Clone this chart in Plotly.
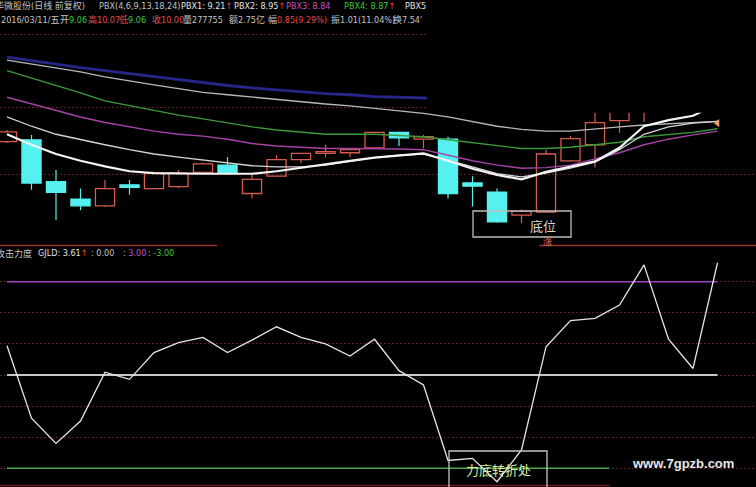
import plotly.graph_objects as go

W, H = 756, 487

# ---------------- data ----------------
idx = list(range(30))

opens  = [10.20, 10.23, 9.55, 9.27, 9.16, 9.50, 9.44, 9.47, 9.70, 9.82,
          9.36, 9.64, 9.91, 10.01, 10.02, 10.10, 10.35, 10.24, 10.24, 9.53,
          9.38, 9.01, 9.06, 9.89, 10.15, 10.54, 10.80, 10.95, 10.90, 11.00]
highs  = [10.39, 10.31, 9.74, 9.44, 9.58, 9.58, 9.70, 9.74, 9.86, 9.95,
          9.68, 9.98, 10.02, 10.15, 10.09, 10.36, 10.36, 10.31, 10.28, 9.64,
          9.44, 9.10, 10.07, 10.29, 10.79, 10.95, 11.10, 11.15, 11.20, 11.25]
lows   = [10.18, 9.42, 8.93, 9.09, 9.14, 9.34, 9.43, 9.45, 9.70, 9.68,
          9.28, 9.63, 9.85, 9.95, 9.95, 10.10, 10.13, 10.09, 9.28, 9.15,
          8.89, 8.88, 9.06, 9.88, 9.78, 10.34, 10.52, 10.75, 10.80, 10.85]
closes = [10.36, 9.53, 9.38, 9.16, 9.44, 9.46, 9.69, 9.69, 9.84, 9.69,
          9.59, 9.91, 10.01, 10.04, 10.07, 10.35, 10.26, 10.28, 9.36, 9.48,
          8.90, 9.07, 10.00, 10.25, 10.51, 10.82, 11.00, 10.90, 11.10, 11.10]

# PBX (waterfall) lines
pbx1 = [10.32, 10.15, 10.00, 9.89, 9.80, 9.72, 9.69, 9.68, 9.68, 9.68,
        9.68, 9.72, 9.78, 9.84, 9.89, 9.94, 9.98, 10.01, 9.89, 9.76,
        9.66, 9.59, 9.71, 9.79, 9.88, 10.10, 10.45, 10.55, 10.62, 10.81]
pbx2 = [10.60, 10.45, 10.32, 10.23, 10.15, 10.07, 10.00, 9.95, 9.90, 9.85,
        9.81, 9.79, 9.79, 9.82, 9.88, 9.94, 9.98, 10.00, 9.90, 9.79,
        9.68, 9.63, 9.69, 9.77, 9.87, 10.07, 10.32, 10.44, 10.50, 10.53]
pbx3 = [10.92, 10.81, 10.70, 10.60, 10.51, 10.44, 10.37, 10.32, 10.29, 10.24,
        10.17, 10.13, 10.11, 10.09, 10.09, 10.09, 10.08, 10.07, 9.98, 9.89,
        9.82, 9.77, 9.78, 9.82, 9.92, 10.02, 10.15, 10.24, 10.31, 10.37]
pbx4 = [11.35, 11.23, 11.12, 10.99, 10.86, 10.78, 10.70, 10.63, 10.57, 10.50,
        10.44, 10.39, 10.36, 10.32, 10.32, 10.32, 10.30, 10.28, 10.23, 10.18,
        10.13, 10.09, 10.09, 10.11, 10.15, 10.19, 10.28, 10.32, 10.35, 10.41]
pbx5 = [11.52, 11.46, 11.39, 11.33, 11.25, 11.18, 11.12, 11.06, 11.00, 10.96,
        10.92, 10.88, 10.84, 10.81, 10.78, 10.74, 10.70, 10.66, 10.60, 10.53,
        10.45, 10.40, 10.37, 10.37, 10.41, 10.44, 10.47, 10.49, 10.52, 10.53]
pbx6 = [11.57, 11.51, 11.46, 11.40, 11.35, 11.30, 11.25, 11.20, 11.15, 11.11,
        11.07, 11.04, 11.00, 10.98, 10.96, 10.93, 10.92, 10.91, 10.89, 10.88,
        10.86, 10.84, 10.84, 10.84, 10.86, 10.88, 10.89, 10.91, 10.92, 10.94]
last_mark = 10.50

# 攻击力度 GJLD indicator
gjld = [0.94, -1.39, -2.20, -1.48, 0.09, -0.14, 0.72, 1.04, 1.21, 0.72,
        1.12, 1.55, 1.21, 1.00, 0.61, 1.15, 0.14, -0.32, -2.75, -2.68,
        -3.43, -2.41, 0.91, 1.75, 1.82, 2.25, 3.54, 1.15, 0.21, 3.61]
gjld_upper, gjld_mid, gjld_lower = 3.00, 0.00, -3.00

main_grid = [9.66, 10.76, 11.93]
sub_grid = [-3, -2, -1, 0, 1, 2, 3]

# ---------------- styles ----------------
RED = "#D85C50"
CYAN = "#55F0F0"
GRID = "#5E1E1E"
NARROW = "Liberation Sans Narrow, Arial Narrow, DejaVu Sans Condensed, Noto Sans CJK SC, sans-serif"
CJK = "Noto Sans CJK SC, sans-serif"
GRAY = "#C4C4C4"
TRED = "#E84848"
TGREEN = "#3CC83C"
TPURP = "#C850C8"
ARROW = "<span style='color:%s'>↑</span>" % TRED

up = [c >= o for o, c in zip(opens, closes)]

fig = go.Figure()

# wicks (upper and lower parts only, so hollow bodies stay empty)
for is_up, col in [(True, RED), (False, CYAN)]:
    xs, ys = [], []
    for i in idx:
        if up[i] != is_up:
            continue
        top = max(opens[i], closes[i]); bot = min(opens[i], closes[i])
        xs += [i, i, None, i, i, None]
        ys += [top, highs[i], None, lows[i], bot, None]
    fig.add_trace(go.Scatter(x=xs, y=ys, mode="lines", line=dict(color=col, width=1.2),
                             hoverinfo="skip", showlegend=False))

# bodies
for is_up, fill, col in [(True, "rgba(0,0,0,0)", RED), (False, CYAN, CYAN)]:
    bx = [i for i in idx if up[i] == is_up]
    base = [min(opens[i], closes[i]) for i in bx]
    hgt = [max(abs(closes[i] - opens[i]), 0.012) for i in bx]
    fig.add_trace(go.Bar(x=bx, y=hgt, base=base, width=0.78,
                         marker=dict(color=fill, line=dict(color=col, width=1.3)),
                         hoverinfo="skip", showlegend=False))

# PBX lines
for vals, col, wd in [(pbx6, "#262688", 2.8), (pbx5, "#B8B8B8", 1.3), (pbx4, "#3C9A3C", 1.4),
                      (pbx3, "#A642A6", 1.4), (pbx2, "#D4D4D4", 1.3), (pbx1, "#F4F4F4", 2.2)]:
    fig.add_trace(go.Scatter(x=idx, y=vals, mode="lines", line=dict(color=col, width=wd),
                             hoverinfo="skip", showlegend=False))

fig.add_trace(go.Scatter(x=[idx[-1]], y=[last_mark], mode="markers",
                         marker=dict(symbol="triangle-left", size=7, color="#F0A070"),
                         hoverinfo="skip", showlegend=False))

# GJLD
fig.add_trace(go.Scatter(x=idx, y=gjld, mode="lines", line=dict(color="#E6E6E6", width=1.3),
                         xaxis="x", yaxis="y2", hoverinfo="skip", showlegend=False))

# ---------------- layout helpers ----------------
def pxx(x):
    return x / W

def pyy(y):
    return 1 - y / H

def xi(xpix):  # pixel -> bar index, for decorations
    return (xpix - 7) / 24.5

annotations = []

def label(xp, yp, text, color, size=9, family=NARROW, anchor="left"):
    annotations.append(dict(x=pxx(xp), y=pyy(yp), xref="paper", yref="paper", text=text,
                            showarrow=False, xanchor=anchor, yanchor="middle",
                            borderpad=0, font=dict(color=color, size=size, family=family)))

# header line 1
label(-6, 6, "华微股份(日线 前复权)", GRAY)
label(98, 6, "PBX(4,6,9,13,18,24)", GRAY)
label(180, 6, "PBX1: 9.21" + ARROW, "#E4E4E4")
label(233, 6, "PBX2: 8.95" + ARROW, "#E4E4E4")
label(285, 6, "PBX3: 8.84", TPURP)
label(343, 6, "PBX4: 8.87" + ARROW, TGREEN)
label(404, 6, "PBX5", "#E4E4E4")
# header line 2
label(0, 20, "2016/03/11/五", GRAY)
label(59, 20, "开<span style='color:%s'>9.06</span>" % TGREEN, GRAY)
label(87, 20, "高10.07", TRED)
label(118, 20, "低<span style='color:%s'>9.06</span>" % TGREEN, TRED)
label(151, 20, "收10.00", TRED)
label(182, 20, "量277755", GRAY)
label(228, 20, "额2.75亿", GRAY)
label(267, 20, "幅<span style='color:%s'>0.85(9.29%%)</span>" % TRED, GRAY)
label(330, 20, "振1.01(11.04%)", GRAY)
label(392, 20, "换7.54'", GRAY)

# sub panel title
label(-5, 253, "攻击力度", GRAY)
label(37, 253, "GJLD: 3.61" + ARROW, "#E4E4E4")
label(90, 253, ": 0.00", GRAY)
label(122, 253, ": <span style='color:%s'>3.00</span>" % TPURP, GRAY)
label(147, 253, ": <span style='color:%s'>-3.00</span>" % TGREEN, GRAY)

# box texts
label(543, 225, "底位", "#D8D8D8", size=13, family=CJK, anchor="center")
label(547, 242, "涨", "#E07060", size=9, family=CJK, anchor="center")
label(498, 469, "力底转折处", "#D4EEA6", size=13, family=CJK, anchor="center")
label(683, 463, "<b>www.7gpzb.com</b>", "#E8E8E8", size=13,
      family="Liberation Sans, Arial, sans-serif", anchor="center")

shapes = [
    # black masking area of the top-right of the price panel
    dict(type="rect", xref="x", yref="y", x0=xi(427), x1=31, y0=10.668, y1=12.0,
         fillcolor="black", line=dict(width=0), layer="above"),
    # red separator lines
    dict(type="line", xref="x", yref="paper", x0=-0.3, x1=xi(217), y0=pyy(245.5), y1=pyy(245.5),
         line=dict(color="#9A3030", width=1.3)),
    dict(type="line", xref="x", yref="paper", x0=xi(539), x1=31, y0=pyy(245.5), y1=pyy(245.5),
         line=dict(color="#9A3030", width=1.3)),
    dict(type="line", xref="x", yref="paper", x0=-0.3, x1=xi(610), y0=pyy(485.5), y1=pyy(485.5),
         line=dict(color="#6E1C1C", width=1.5)),
    # boxes
    dict(type="rect", xref="x", yref="y", x0=xi(473), x1=xi(571), y0=8.655, y1=9.076,
         line=dict(color="#BDBDBD", width=1.3), fillcolor="rgba(0,0,0,0)", layer="above"),
    dict(type="rect", xref="x", yref="y2", x0=xi(449), x1=xi(547), y0=-3.8, y1=-2.444,
         line=dict(color="#C4C4C4", width=1.3), fillcolor="rgba(0,0,0,0)", layer="above"),
    # GJLD reference levels
    dict(type="line", xref="x", yref="y2", x0=0, x1=29, y0=gjld_upper, y1=gjld_upper,
         line=dict(color="#A040C0", width=1.6), layer="between"),
    dict(type="line", xref="x", yref="y2", x0=0, x1=29, y0=gjld_mid, y1=gjld_mid,
         line=dict(color="#C8C8C8", width=2), layer="between"),
    dict(type="line", xref="x", yref="y2", x0=0, x1=xi(609), y0=gjld_lower, y1=gjld_lower,
         line=dict(color="#4CA84C", width=1.6), layer="between"),
]

fig.update_layout(
    width=W, height=H,
    margin=dict(l=0, r=0, t=0, b=0),
    paper_bgcolor="black", plot_bgcolor="black",
    barmode="overlay", showlegend=False,
    xaxis=dict(range=[-0.2857, 30.571], visible=False, showgrid=False, zeroline=False, fixedrange=True),
    yaxis=dict(domain=[1 - 245 / H, 1 - 30 / H], range=[8.5252, 12.0097],
               tickvals=main_grid, showticklabels=False, showgrid=True, gridcolor=GRID,
               griddash="2px,2px", gridwidth=1, zeroline=False, showline=False),
    yaxis2=dict(domain=[0, 1 - 250 / H], range=[-3.6013, 4.0193], anchor="x",
                tickvals=sub_grid, showticklabels=False, showgrid=True, gridcolor=GRID,
                griddash="2px,2px", gridwidth=1, zeroline=False, showline=False),
    annotations=annotations,
    shapes=shapes,
)

fig.write_html("out.html", config={"displayModeBar": False},
               post_script="document.body.style.margin='0px';document.body.style.background='black';")
